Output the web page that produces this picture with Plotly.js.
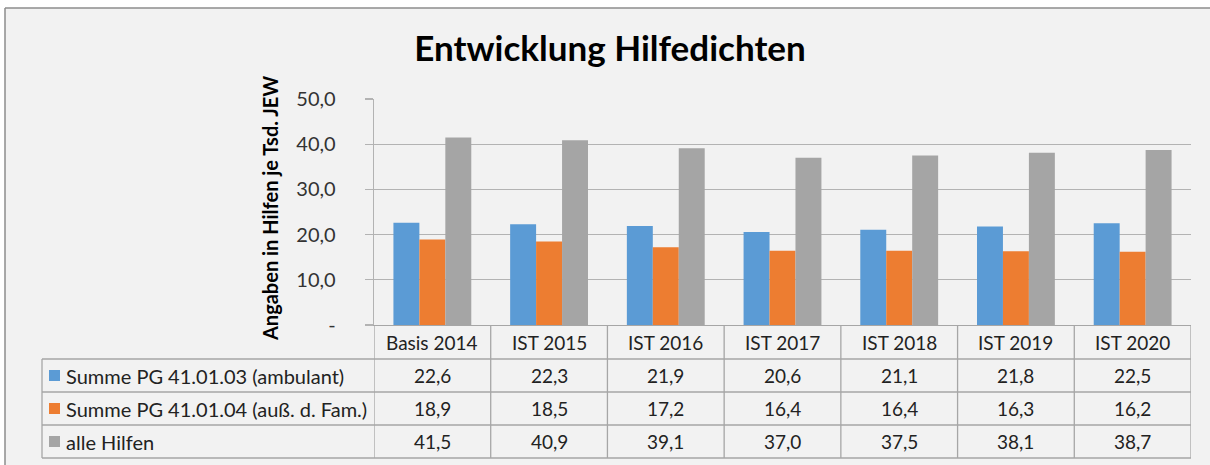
<!DOCTYPE html>
<html>
<head>
<meta charset="utf-8">
<script src="https://cdn.plot.ly/plotly-3.0.1.min.js"></script>
<style>html,body{margin:0;padding:0;background:#fff;}#chart{width:1210px;height:465px;}</style>
</head>
<body>
<div id="chart"></div>
<script>
// ---- data ----
const categories = ["Basis 2014", "IST 2015", "IST 2016", "IST 2017", "IST 2018", "IST 2019", "IST 2020"];
const seriesNames = ["Summe PG 41.01.03 (ambulant)", "Summe PG 41.01.04 (auß. d. Fam.)", "alle Hilfen"];
const ambulant = [22.6, 22.3, 21.9, 20.6, 21.1, 21.8, 22.5];
const ausserFam = [18.9, 18.5, 17.2, 16.4, 16.4, 16.3, 16.2];
const alleHilfen = [41.5, 40.9, 39.1, 37.0, 37.5, 38.1, 38.7];
const yTickVals = [0, 10, 20, 30, 40, 50];
const yTickText = ["-", "10,0", "20,0", "30,0", "40,0", "50,0"];
const seriesValues = [ambulant, ausserFam, alleHilfen];
const colors = ["#5b9bd5", "#ed7d31", "#a5a5a5"];

// ---- geometry helpers (pixel -> paper) ----
const W = 1210, H = 465;
const mL = 374, mR = 19, mT = 99, mB = 140;
const pw = W - mL - mR, ph = H - mT - mB;
const px = x => (x - mL) / pw;
const py = y => (H - mB - y) / ph;

const fontFam = "Lato, 'Open Sans', Arial, sans-serif";
const gridCol = "#b3b3b3";
const tableCol = "#a6a6a6";
const txtSize = 19;

const traces = seriesValues.map((vals, k) => ({
  type: "bar",
  x: categories,
  y: vals,
  name: seriesNames[k],
  marker: {color: colors[k], line: {width: 0}},
  hoverinfo: "none"
}));

const shapes = [];
const annotations = [];

// outer frame
shapes.push({type: "rect", xref: "paper", yref: "paper", x0: px(-10), x1: px(W + 10), y0: py(8), y1: py(-10), fillcolor: "#ffffff", line: {width: 0}, layer: "below"});
shapes.push({type: "rect", xref: "paper", yref: "paper", x0: px(-10), x1: px(5), y0: py(H + 10), y1: py(8), fillcolor: "#ffffff", line: {width: 0}, layer: "below"});
shapes.push({type: "line", xref: "paper", yref: "paper", x0: px(5), x1: px(W + 5), y0: py(8), y1: py(8), line: {color: "#8c8c8c", width: 1.5}});
shapes.push({type: "line", xref: "paper", yref: "paper", x0: px(5), x1: px(5), y0: py(8), y1: py(H + 5), line: {color: "#8c8c8c", width: 1.5}});

// table horizontal lines
const rowLines = [359, 392, 425, 458];
rowLines.forEach(y => shapes.push({type: "line", xref: "paper", yref: "paper", x0: px(42), x1: 1, y0: py(y), y1: py(y), line: {color: tableCol, width: 1.3}}));
// table vertical lines
shapes.push({type: "line", xref: "paper", yref: "paper", x0: px(42), x1: px(42), y0: py(359), y1: py(458), line: {color: tableCol, width: 1.3}});
for (let i = 0; i <= categories.length; i++) {
  shapes.push({type: "line", xref: "x", yref: "paper", x0: i - 0.5, x1: i - 0.5, y0: py(325), y1: py(458), line: {color: tableCol, width: 1.3}});
}

// header labels
categories.forEach((c, i) => annotations.push({xref: "x", yref: "paper", x: c, y: py(342), text: c, showarrow: false, xanchor: "center", yanchor: "middle", font: {family: fontFam, size: txtSize, color: "#222"}}));

// rows: legend keys + values
const rowCenters = [375.5, 408.5, 441.5];
seriesValues.forEach((vals, k) => {
  const yc = rowCenters[k];
  shapes.push({type: "rect", xref: "paper", yref: "paper", x0: px(49), x1: px(60), y0: py(yc - 5.5), y1: py(yc + 5.5), fillcolor: colors[k], line: {width: 0}});
  annotations.push({xref: "paper", yref: "paper", x: px(64), y: py(yc), text: seriesNames[k], showarrow: false, xanchor: "left", yanchor: "middle", font: {family: fontFam, size: 20, color: "#222"}});
  vals.forEach((v, i) => annotations.push({xref: "x", yref: "paper", x: categories[i], y: py(yc), text: v.toFixed(1).replace(".", ","), showarrow: false, xanchor: "center", yanchor: "middle", font: {family: fontFam, size: txtSize, color: "#222"}}));
});

// y axis title
annotations.push({xref: "paper", yref: "paper", x: px(270), y: py(209), text: "<b>Angaben in Hilfen je Tsd. JEW</b>", textangle: -90, showarrow: false, xanchor: "center", yanchor: "middle", font: {family: fontFam, size: 20, color: "#000"}});

const layout = {
  width: W, height: H,
  margin: {l: mL, r: mR, t: mT, b: mB, pad: 0},
  paper_bgcolor: "#f2f2f2",
  plot_bgcolor: "#f2f2f2",
  showlegend: false,
  barmode: "group",
  bargap: 0.333,
  bargroupgap: 0,
  title: {text: "<b>Entwicklung Hilfedichten</b>", x: 610 / W, xanchor: "center", y: 1 - 49 / H, yanchor: "middle", font: {family: fontFam, size: 35, color: "#000"}},
  xaxis: {
    type: "category",
    range: [-0.5, categories.length - 0.5],
    showticklabels: false,
    ticks: "",
    showline: true, linecolor: tableCol, linewidth: 1.3,
    showgrid: false, zeroline: false, fixedrange: true
  },
  yaxis: {
    range: [0, 50],
    tickvals: yTickVals, ticktext: yTickText,
    ticks: "outside", ticklen: 8, tickcolor: gridCol, tickwidth: 1.3,
    ticklabelstandoff: 25,
    tickfont: {family: fontFam, size: 20, color: "#333"},
    showline: true, linecolor: gridCol, linewidth: 1.3,
    showgrid: true, gridcolor: gridCol, gridwidth: 1.3,
    zeroline: false, fixedrange: true
  },
  shapes: shapes,
  annotations: annotations
};

Plotly.newPlot("chart", traces, layout, {displayModeBar: false, staticPlot: true});
</script>
</body>
</html>
